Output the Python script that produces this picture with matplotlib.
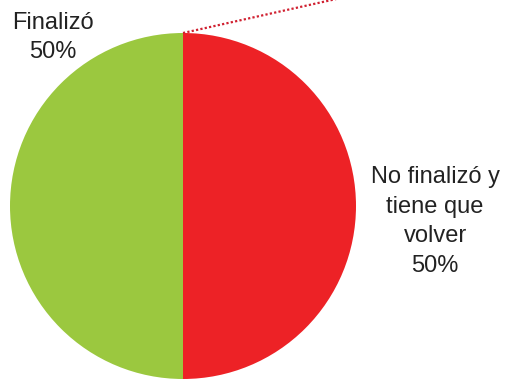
import matplotlib
matplotlib.use("Agg")
import matplotlib.pyplot as plt

categories = ["Finalizó", "No finalizó y\ntiene que\nvolver"]
values = [50, 50]
colors = ["#9BC83F", "#ED2226"]

plt.rcParams['font.family'] = ['Liberation Sans', 'DejaVu Sans']

fig = plt.figure(figsize=(5.05, 3.79), dpi=100)
W, H = 505, 379
cx, cy, r = 183, 206, 173
ax = fig.add_axes([(cx - r) / W, (H - cy - r) / H, 2 * r / W, 2 * r / H])
wedges, _ = ax.pie(values, colors=colors, startangle=90, counterclock=True,
                   radius=1, center=(0, 0),
                   wedgeprops=dict(linewidth=0))
ax.set_xlim(-1, 1)
ax.set_ylim(-1, 1)
ax.set_aspect('equal')
ax.axis('off')
for w in wedges:
    w.set_clip_on(False)

total = sum(values)
pcts = [f"{v / total * 100:.0f}%" for v in values]

ax.text(-0.75, 0.975, f"{categories[0]}\n{pcts[0]}", ha='center', va='center',
        fontsize=17, linespacing=1.42, color='#222222')
ax.text(1.457, -0.09, f"{categories[1]}\n{pcts[1]}", ha='center', va='center',
        fontsize=17, linespacing=1.45, color='#222222')

# leader line
ax.plot([0, 1.9], [1.0, 1.0 + 0.222 * 1.9], color='#D02030', linestyle=(0, (1, 1)),
        linewidth=1.6, clip_on=False)

fig.savefig("out.png", dpi=100)
